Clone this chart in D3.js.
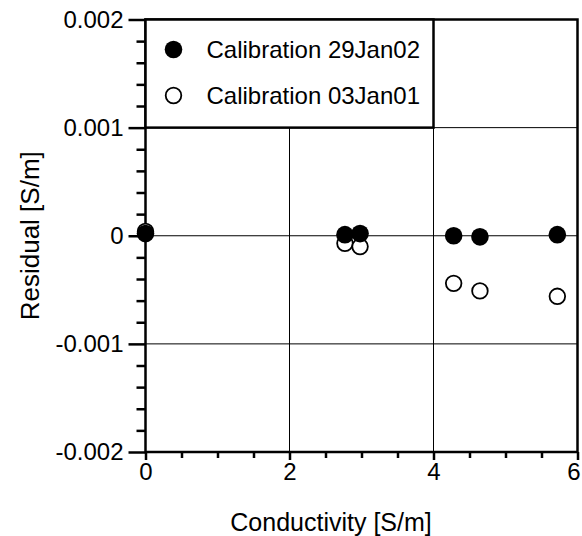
<!DOCTYPE html>
<html>
<head>
<meta charset="utf-8">
<script src="https://cdn.jsdelivr.net/npm/d3@7"></script>
<style>
  body { margin: 0; background: #fff; }
  text { font-family: "Liberation Sans", Arial, sans-serif; fill: #000; }
</style>
</head>
<body>
<div id="chart"></div>
<script>
// conductivity [S/m] of each calibration point
const conductivity = [0, 2.77, 2.98, 4.28, 4.645, 5.72];
// residuals [S/m]
const residual29Jan02 = [0.00002, 0.00001, 0.00002, 0.0, -0.00001, 0.00001];
const residual03Jan01 = [0.00004, -0.00007, -0.0001, -0.00044, -0.00051, -0.00056];

const xTicks = [0, 2, 4, 6];
const yTicks = [0.002, 0.001, 0, -0.001, -0.002];
const yTickLabels = ['0.002', '0.001', '0', '-0.001', '-0.002'];
const legendLabels = ['Calibration 29Jan02', 'Calibration 03Jan01'];

const width = 582, height = 536;
const margin = { top: 19.5, right: 4.5, bottom: 84, left: 145.5 };
const w = width - margin.left - margin.right;
const h = height - margin.top - margin.bottom;

const svg = d3.select('#chart').append('svg')
  .attr('width', width)
  .attr('height', height);

const g = svg.append('g')
  .attr('transform', `translate(${margin.left},${margin.top})`);

const x = d3.scaleLinear().domain([0, 6]).range([0, w]);
const y = d3.scaleLinear().domain([-0.002, 0.002]).range([h, 0]);

// grid lines
g.append('g').selectAll('line').data([2, 4]).join('line')
  .attr('x1', d => x(d)).attr('x2', d => x(d))
  .attr('y1', 0).attr('y2', h)
  .attr('stroke', '#000').attr('stroke-width', 1);
g.append('g').selectAll('line').data([0.001, 0, -0.001]).join('line')
  .attr('x1', 0).attr('x2', w)
  .attr('y1', d => y(d)).attr('y2', d => y(d))
  .attr('stroke', '#000').attr('stroke-width', 1);

// minor ticks
const xMinor = d3.range(0, 6.01, 0.5).filter(v => !xTicks.includes(v));
const yMinor = d3.range(-0.002, 0.00201, 0.0002).filter(v => Math.abs(Math.round(v * 1000) - v * 1000) > 1e-6);

g.append('g')
  .attr('transform', `translate(0,${h})`)
  .call(d3.axisBottom(x).tickValues(xMinor).tickSize(6).tickFormat(''))
  .call(a => a.select('.domain').remove())
  .call(a => a.selectAll('line').attr('stroke-width', 2.5));
g.append('g')
  .call(d3.axisLeft(y).tickValues(yMinor).tickSize(9).tickFormat(''))
  .call(a => a.select('.domain').remove())
  .call(a => a.selectAll('line').attr('stroke-width', 2.5));

// major axes
g.append('g')
  .attr('transform', `translate(0,${h})`)
  .call(d3.axisBottom(x).tickValues(xTicks).tickSize(8).tickPadding(3).tickFormat(d3.format('d')))
  .call(a => a.select('.domain').remove())
  .call(a => a.selectAll('line').attr('stroke-width', 2.5))
  .call(a => a.selectAll('text').style('font-size', '24px').attr('font-family', null))
  .call(a => a.selectAll('text').filter(d => d === 6).attr('dx', -4));
g.append('g')
  .call(d3.axisLeft(y).tickValues(yTicks).tickSize(17).tickPadding(5)
    .tickFormat((d, i) => yTickLabels[i]))
  .call(a => a.select('.domain').remove())
  .call(a => a.selectAll('line').attr('stroke-width', 2.5))
  .call(a => a.selectAll('text').style('font-size', '24px').attr('font-family', null));

// frame
g.append('rect')
  .attr('x', 0).attr('y', 0).attr('width', w).attr('height', h)
  .attr('fill', 'none').attr('stroke', '#000').attr('stroke-width', 2.5);

// legend box
const legend = g.append('g');
legend.append('rect')
  .attr('x', 0).attr('y', 0).attr('width', x(4)).attr('height', y(0.001))
  .attr('fill', '#fff').attr('stroke', '#000').attr('stroke-width', 2.5);
legendLabels.forEach((label, i) => {
  const ly = 30 + i * 46;
  legend.append('circle')
    .attr('cx', 28).attr('cy', ly).attr('r', i === 0 ? 8.8 : 7.8)
    .attr('fill', i === 0 ? '#000' : '#fff')
    .attr('stroke', '#000').attr('stroke-width', i === 0 ? 0 : 1.8);
  legend.append('text')
    .attr('x', 61).attr('y', ly).attr('dy', '0.35em')
    .style('font-size', '24px')
    .text(label);
});

// data points
const marks = g.append('g');
marks.selectAll('circle.open').data(conductivity).join('circle')
  .attr('class', 'open')
  .attr('cx', d => x(d)).attr('cy', (d, i) => y(residual03Jan01[i]))
  .attr('r', 7.8)
  .attr('fill', '#fff').attr('stroke', '#000').attr('stroke-width', 1.8);
marks.selectAll('circle.filled').data(conductivity).join('circle')
  .attr('class', 'filled')
  .attr('cx', d => x(d)).attr('cy', (d, i) => y(residual29Jan02[i]))
  .attr('r', 8.8)
  .attr('fill', '#000');

// axis titles
svg.append('text')
  .attr('x', 331).attr('y', 531)
  .attr('text-anchor', 'middle')
  .style('font-size', '25px')
  .text('Conductivity [S/m]');
svg.append('text')
  .attr('transform', `translate(30,${margin.top + h / 2}) rotate(-90)`)
  .attr('text-anchor', 'middle')
  .attr('dy', '0.35em')
  .style('font-size', '26px')
  .text('Residual [S/m]');
</script>
</body>
</html>
